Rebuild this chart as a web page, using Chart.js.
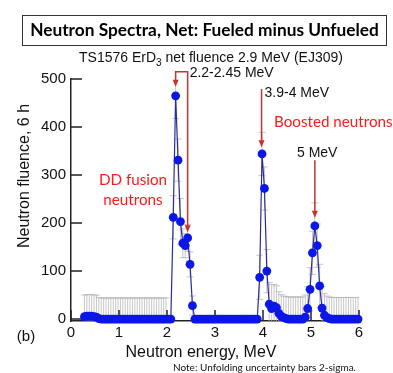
<!DOCTYPE html>
<html>
<head>
<meta charset="utf-8">
<script src="https://cdn.jsdelivr.net/npm/chart.js@4/dist/chart.umd.min.js"></script>
<style>
  html, body { margin: 0; padding: 0; background: #fff; }
  #wrap { width: 393px; height: 373px; position: relative; }
</style>
</head>
<body>
<div id="wrap"><canvas id="spectrum"></canvas></div>
<script>
// energies, MeV (unfolding bins)
const energy = [
  0.28, 0.33, 0.38, 0.43, 0.48, 0.53, 0.58, 0.63, 0.68, 0.73, 0.78, 0.83, 0.88, 0.93, 0.98,
  1.03, 1.08, 1.13, 1.18, 1.23, 1.28, 1.33, 1.38, 1.43, 1.48, 1.53, 1.58, 1.63, 1.68, 1.73,
  1.78, 1.83, 1.88, 1.93, 1.98, 2.03, 2.08, 2.13, 2.18, 2.23, 2.28, 2.33, 2.38, 2.43, 2.48,
  2.53, 2.58, 2.63, 2.68, 2.73, 2.78, 2.83, 2.88, 2.93, 2.98, 3.03, 3.08, 3.13, 3.18, 3.23,
  3.28, 3.33, 3.38, 3.43, 3.48, 3.53, 3.58, 3.63, 3.68, 3.73, 3.78, 3.83, 3.88, 3.93, 3.98,
  4.03, 4.08, 4.13, 4.18, 4.23, 4.28, 4.33, 4.38, 4.43, 4.48, 4.53, 4.58, 4.63, 4.68, 4.73,
  4.78, 4.83, 4.88, 4.93, 4.98, 5.03, 5.08, 5.13, 5.18, 5.23, 5.28, 5.33, 5.38, 5.43, 5.48,
  5.53, 5.58, 5.63, 5.68, 5.73, 5.78, 5.83, 5.88, 5.93, 5.98
];

const fluence = [
  5, 6, 6, 6, 5, 4, 1, 0, 0, 0, 0, 0, 0, 0, 0,
  0, 0, 0, 0, 0, 0, 0, 0, 0, 0, 0, 0, 0, 0, 0,
  0, 0, 0, 0, 0, 0, 0, 212, 465, 331, 203, 158, 153, 169, 114,
  28, 0, 0, 0, 0, 0, 0, 0, 0, 0, 0, 0, 0, 0, 0,
  0, 0, 0, 0, 0, 0, 0, 0, 0, 0, 0, 0, 0, 87, 344,
  272, 100, 31, 22, 27, 24, 12, 6, 3, 1, 0, 0, 0, 0, 0,
  0, 0, 4, 22, 62, 138, 194, 153, 69, 23, 8, 3, 1, 0, 0,
  0, 0, 0, 0, 0, 0, 0, 0, 0, 0
];

// 2-sigma unfolding uncertainty
const uncert = [
  45, 45, 45, 45, 45, 46, 44, 44, 44, 44, 44, 44, 44, 44, 44,
  44, 44, 44, 44, 44, 44, 44, 44, 44, 44, 44, 44, 44, 44, 44,
  44, 44, 44, 44, 44, 0, 0, 45, 47, 44, 48, 30, 25, 28, 26,
  20, 0, 0, 0, 0, 0, 0, 0, 0, 0, 0, 0, 0, 0, 0,
  0, 0, 0, 0, 0, 0, 0, 0, 0, 0, 0, 0, 0, 46, 45,
  45, 45, 45, 50, 45, 45, 45, 45, 45, 46, 46, 46, 46, 46, 46,
  46, 46, 46, 45, 45, 45, 48, 45, 45, 45, 45, 45, 45, 45, 45,
  45, 45, 45, 45, 45, 45, 45, 45, 45, 45
];

const xTicks = [0, 1, 2, 3, 4, 5, 6];
const yTicks = [0, 100, 200, 300, 400, 500];

const SANS = '"Liberation Sans", Arial, sans-serif';
const CAL = 'Lato, "Open Sans", sans-serif';

function fitSize(ctx, text, width, weight, family) {
  ctx.font = weight + ' 20px ' + family;
  return 20 * width / ctx.measureText(text).width;
}

function arrowHead(ctx, x, y) {
  ctx.beginPath();
  ctx.moveTo(x, y);
  ctx.lineTo(x - 3, y - 7);
  ctx.lineTo(x + 3, y - 7);
  ctx.closePath();
  ctx.fill();
}

const errorBars = {
  id: 'errorBars',
  beforeDatasetsDraw(chart) {
    const {ctx, chartArea: a, scales: {x, y}} = chart;
    ctx.save();
    ctx.beginPath();
    ctx.rect(a.left, a.top, a.right - a.left, a.bottom - a.top);
    ctx.clip();
    ctx.strokeStyle = '#b9b9b9';
    ctx.lineWidth = 0.8;
    energy.forEach((e, i) => {
      const d = uncert[i];
      if (!d) return;
      const px = x.getPixelForValue(e);
      const top = y.getPixelForValue(fluence[i] + d);
      const bot = y.getPixelForValue(fluence[i] - d);
      ctx.beginPath();
      ctx.moveTo(px, top); ctx.lineTo(px, bot);
      ctx.moveTo(px - 3.5, top); ctx.lineTo(px + 3.5, top);
      ctx.moveTo(px - 3.5, bot); ctx.lineTo(px + 3.5, bot);
      ctx.stroke();
    });
    ctx.restore();

    // inward tick marks
    ctx.save();
    ctx.strokeStyle = '#222';
    ctx.lineWidth = 1.5;
    ctx.beginPath();
    x.ticks.forEach(t => {
      const px = x.getPixelForValue(t.value);
      ctx.moveTo(px, a.bottom); ctx.lineTo(px, a.bottom - 11);
    });
    y.ticks.forEach(t => {
      const py = y.getPixelForValue(t.value);
      ctx.moveTo(a.left, py); ctx.lineTo(a.left + 11, py);
    });
    ctx.stroke();
    ctx.restore();
  }
};

const decorations = {
  id: 'decorations',
  afterDraw(chart) {
    const {ctx, scales: {x, y}} = chart;
    ctx.save();

    // boxed heading
    ctx.strokeStyle = '#333';
    ctx.lineWidth = 1;
    ctx.strokeRect(22.5, 15.5, 364, 30);
    const head = 'Neutron Spectra, Net: Fueled minus Unfueled';
    const hs = fitSize(ctx, head, 350, 'bold', CAL);
    ctx.font = 'bold ' + hs.toFixed(1) + 'px ' + CAL;
    ctx.fillStyle = '#000';
    ctx.textAlign = 'center';
    ctx.textBaseline = 'middle';
    ctx.fillText(head, 204.5, 30.5);

    // subtitle with subscript
    const s1 = 'TS1576 ErD', s2 = '3', s3 = ' net fluence 2.9 MeV (EJ309)';
    ctx.textAlign = 'left';
    ctx.textBaseline = 'alphabetic';
    ctx.font = '14px ' + SANS;
    const w1 = ctx.measureText(s1).width, w3 = ctx.measureText(s3).width;
    ctx.font = '10px ' + SANS;
    const w2 = ctx.measureText(s2).width;
    let sx = 211 - (w1 + w2 + w3) / 2;
    ctx.fillStyle = '#111';
    ctx.font = '14px ' + SANS;
    ctx.fillText(s1, sx, 62);
    ctx.font = '10px ' + SANS;
    ctx.fillText(s2, sx + w1, 66);
    ctx.font = '14px ' + SANS;
    ctx.fillText(s3, sx + w1 + w2, 62);

    // axis titles
    ctx.font = '16px ' + SANS;
    ctx.textAlign = 'center';
    ctx.textBaseline = 'middle';
    ctx.fillText('Neutron energy, MeV', 201, 353);
    ctx.save();
    ctx.translate(25, 176);
    ctx.rotate(-Math.PI / 2);
    ctx.fillText('Neutron fluence, 6 h', 0, 0);
    ctx.restore();

    ctx.font = '15px ' + SANS;
    ctx.fillText('(b)', 26, 337);

    // red arrows
    ctx.strokeStyle = '#c8322c';
    ctx.fillStyle = '#c8322c';
    ctx.lineWidth = 1.5;
    const xa = x.getPixelForValue(2.18), xb = x.getPixelForValue(2.43);
    const yTop = y.getPixelForValue(515);
    ctx.beginPath();
    ctx.moveTo(xa, y.getPixelForValue(484) - 6);
    ctx.lineTo(xa, yTop);
    ctx.lineTo(xb, yTop);
    ctx.lineTo(xb, y.getPixelForValue(181) - 6);
    ctx.stroke();
    arrowHead(ctx, xa, y.getPixelForValue(484));
    arrowHead(ctx, xb, y.getPixelForValue(181));

    const xc = x.getPixelForValue(3.97);
    ctx.beginPath();
    ctx.moveTo(xc, y.getPixelForValue(479));
    ctx.lineTo(xc, y.getPixelForValue(358) - 6);
    ctx.stroke();
    arrowHead(ctx, xc, y.getPixelForValue(358));

    const xd = x.getPixelForValue(5.08);
    ctx.beginPath();
    ctx.moveTo(xd, y.getPixelForValue(331));
    ctx.lineTo(xd, y.getPixelForValue(211) - 6);
    ctx.stroke();
    arrowHead(ctx, xd, y.getPixelForValue(211));

    // arrow labels
    ctx.fillStyle = '#111';
    ctx.font = '14px ' + SANS;
    ctx.textAlign = 'left';
    ctx.fillText('2.2-2.45 MeV', xb + 2, 73);
    ctx.fillText('3.9-4 MeV', xc + 3, 93);
    ctx.fillText('5 MeV', 297, 153);

    // red notes
    const rs = fitSize(ctx, 'Boosted neutrons', 119, 'normal', CAL);
    ctx.font = rs.toFixed(1) + 'px ' + CAL;
    ctx.fillStyle = '#ff1a1a';
    ctx.fillText('Boosted neutrons', 274, 122);
    ctx.textAlign = 'center';
    ctx.fillText('DD fusion', 133, 180);
    ctx.fillText('neutrons', 133, 200);

    // footnote
    const note = 'Note: Unfolding uncertainty bars 2-sigma.';
    const ns = fitSize(ctx, note, 183, 'normal', CAL);
    ctx.font = ns.toFixed(1) + 'px ' + CAL;
    ctx.fillStyle = '#111';
    ctx.textAlign = 'left';
    ctx.fillText(note, 173, 368);

    ctx.restore();
  }
};

new Chart(document.getElementById('spectrum'), {
  type: 'line',
  data: {
    datasets: [{
      data: energy.map((e, i) => ({x: e, y: fluence[i]})),
      borderColor: '#2c2c96',
      borderWidth: 1.2,
      pointRadius: 4.4,
      pointBorderWidth: 0,
      pointBackgroundColor: '#0b16e8',
      tension: 0,
      clip: 8,
    }]
  },
  options: {
    responsive: true,
    maintainAspectRatio: false,
    animation: false,
    layout: { padding: { top: 79, right: 34, left: 0, bottom: 0 } },
    plugins: { legend: { display: false }, tooltip: { enabled: false } },
    scales: {
      x: {
        type: 'linear',
        min: 0,
        max: 6,
        afterBuildTicks: s => { s.ticks = xTicks.map(v => ({value: v})); },
        afterFit: s => { s.height = 52; },
        grid: { display: false, drawTicks: false },
        border: { display: true, color: '#222', width: 1.5 },
        ticks: { padding: 3, color: '#111', font: { family: SANS, size: 15 } },
      },
      y: {
        min: -4,
        max: 500,
        afterBuildTicks: s => { s.ticks = yTicks.map(v => ({value: v})); },
        afterFit: s => { s.width = 71; },
        grid: { display: false, drawTicks: false },
        border: { display: true, color: '#222', width: 1.5 },
        ticks: { padding: 5, color: '#111', font: { family: SANS, size: 15 } },
      }
    }
  },
  plugins: [errorBars, decorations]
});
</script>
</body>
</html>
